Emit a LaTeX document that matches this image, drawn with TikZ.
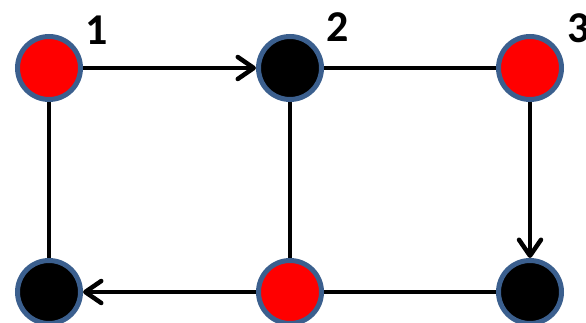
\documentclass[tikz,border=0pt]{standalone}
\usepackage{fontspec}
\setmainfont{Carlito}
\usetikzlibrary{arrows.meta}
\definecolor{rimblue}{HTML}{3B5F8E}
\definecolor{nodered}{HTML}{FF0000}
\begin{document}
\begin{tikzpicture}[x=1pt,y=-1pt,
  vert/.style={circle,draw=rimblue,line width=5pt,minimum size=63pt,inner sep=0pt},
  redv/.style={vert,fill=nodered},
  blackv/.style={vert,fill=black},
  edge/.style={line width=4.5pt,black},
  arr/.style={edge,-{Straight Barb[length=16pt,width=22pt,round]}},
  lab/.style={font=\bfseries\fontsize{44}{44}\selectfont,inner sep=0pt}]
\useasboundingbox (0,0) rectangle (586,323);
\node[redv] (a) at (49,68) {};
\node[blackv] (b) at (290,68) {};
\node[redv] (c) at (530,68) {};
\node[blackv] (d) at (49,292) {};
\node[redv] (e) at (290,292) {};
\node[blackv] (f) at (530,292) {};
\node[lab] (l1) at (97,30) {1};
\node[lab] (l2) at (338,27) {2};
\node[lab] (l3) at (579,28) {3};
\draw[arr] (a) -- (b);
\draw[edge] (b) -- (c);
\draw[edge] (a) -- (d);
\draw[edge] (b) -- (e);
\draw[arr] (c) -- (f);
\draw[edge] (f) -- (e);
\draw[arr] (e) -- (d);
\end{tikzpicture}
\end{document}
